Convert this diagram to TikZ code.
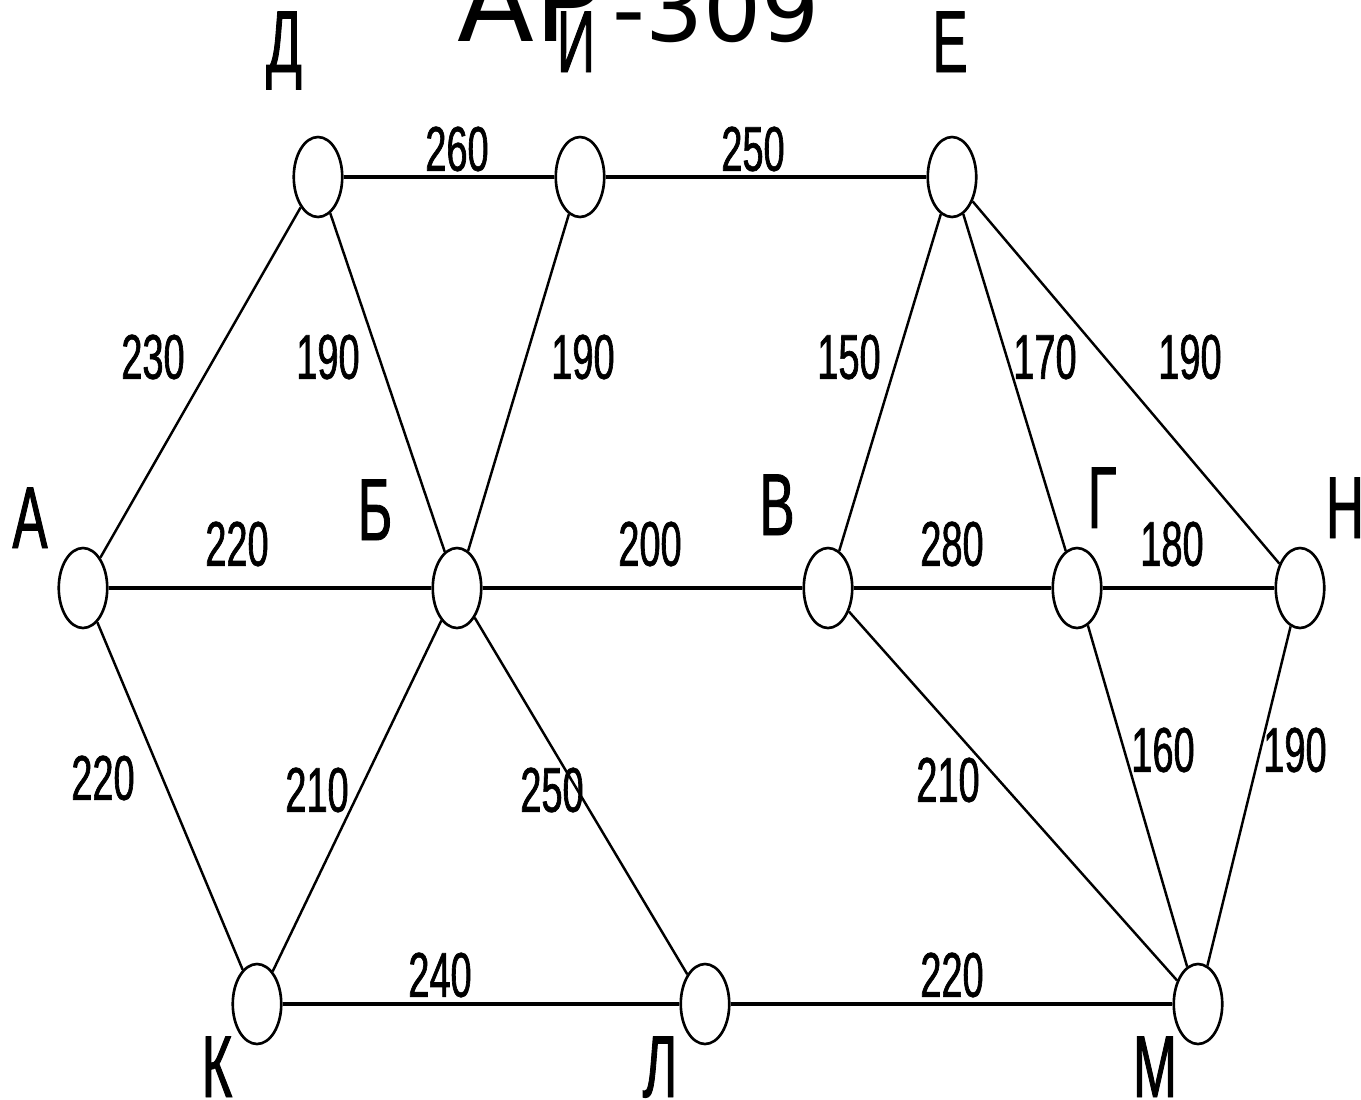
\documentclass[tikz,border=0pt]{standalone}
\usepackage{fontspec}
\usetikzlibrary{shapes}
\newfontfamily\mapfont[FakeStretch=0.6, FakeBold=1]{Liberation Sans}
\newfontfamily\headfont{DejaVu Sans}
\tikzset{
  city/.style     = {ellipse, draw, line width=1.5pt, fill=white,
                     minimum width=0.97cm, minimum height=1.6cm, inner sep=0pt},
  cityname/.style = {font=\mapfont\fontsize{50}{50}\selectfont, anchor=base, inner sep=0pt},
  km/.style       = {font=\mapfont\fontsize{36}{36}\selectfont, inner sep=0pt},
  road/.style     = {line width=1.9pt},
  slope/.style    = {line width=1.4pt}
}

\begin{document}
\begin{tikzpicture}[x=0.02cm, y=-0.02cm]
\useasboundingbox (0,0) rectangle (1361,1099);
\clip (0,0) rectangle (1361,1099);

% title
\node[font=\headfont, anchor=base west, inner sep=0pt] (title) at (457,41)
  {\fontsize{64}{64}\selectfont AP\kern6pt\fontsize{52}{52}\selectfont -309};

% towns, top row
\node[city] (D) at (318,177) {};
\node[city] (I) at (580,177) {};
\node[city] (E) at (952,177) {};
% middle row
\node[city] (A) at (83,588) {};
\node[city] (B) at (457,588) {};
\node[city] (V) at (828,588) {};
\node[city] (G) at (1077,588) {};
\node[city] (N) at (1300,588) {};
% bottom row
\node[city] (K) at (257,1004) {};
\node[city] (L) at (705,1004) {};
\node[city] (M) at (1198,1004) {};

% town letters
\node[cityname] (nD) at (284,72) {Д};
\node[cityname] (nI) at (576,72) {И};
\node[cityname] (nE) at (950,72) {Е};
\node[cityname] (nA) at (30,548) {А};
\node[cityname] (nB) at (375,540) {Б};
\node[cityname] (nV) at (777,535) {В};
\node[cityname] (nG) at (1102,528) {Г};
\node[cityname] (nN) at (1345,538) {Н};
\node[cityname] (nK) at (217,1097) {К};
\node[cityname] (nL) at (660,1097) {Л};
\node[cityname] (nM) at (1155,1097) {М};

% roads
\foreach \a/\b in {D/I, I/E, A/B, B/V, V/G, G/N, K/L, L/M}
  \draw[road] (\a) -- (\b);
\foreach \a/\b in {A/D, D/B, I/B, V/E, E/G, E/N, A/K, K/B, B/L, V/M, G/M, N/M}
  \draw[slope] (\a) -- (\b);

% distances
\foreach \x/\y/\t [count=\i] in {457/149/260, 753/149/250,
    153/357/230, 328/357/190, 583/357/190, 849/357/150, 1045/357/170, 1190/357/190,
    237/544/220, 650/544/200, 952/544/280, 1172/544/180,
    103/778/220, 317/790/210, 552/790/250, 948/780/210, 1163/750/160, 1295/750/190,
    440/975/240, 952/975/220}
  \node[km] (d\i) at (\x,\y) {\t};

\end{tikzpicture}
\end{document}
